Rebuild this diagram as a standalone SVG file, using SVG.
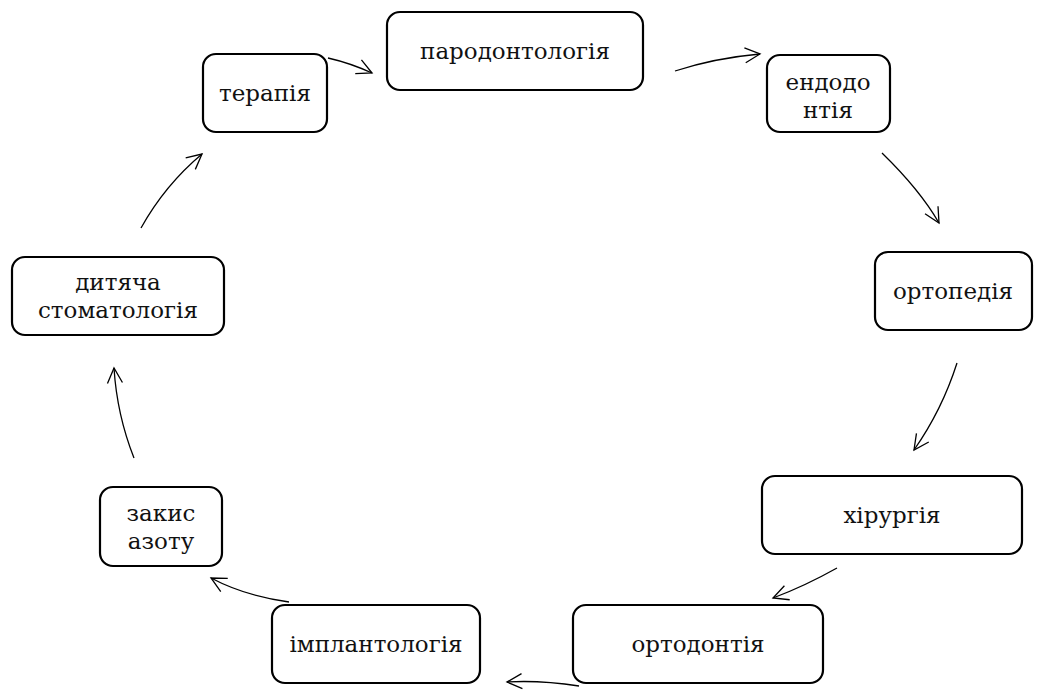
<svg xmlns="http://www.w3.org/2000/svg" width="1045" height="690" viewBox="0 0 1045 690">
<defs>
<style>
.box{fill:#fff;stroke:#000;stroke-width:2.2}
.t{font-family:'DejaVu Serif','Liberation Serif',serif;font-size:23px;fill:#111;text-anchor:middle}
.c{fill:none;stroke:#000;stroke-width:1.3;marker-end:url(#ah)}
</style>
<marker id="ah" viewBox="0 0 18 18" refX="16" refY="9" markerWidth="18" markerHeight="18" markerUnits="userSpaceOnUse" orient="auto">
<path d="M1,1.5 L16,9 L1,16.5" fill="none" stroke="#000" stroke-width="1.3"/>
</marker>
</defs>
<rect width="1045" height="690" fill="#fff"/>
<g id="connectors">
<path class="c" d="M328,58 Q350,63 372,73"/>
<path class="c" d="M675,71 Q715,58 760,54"/>
<path class="c" d="M882,153 Q920,190 939,223"/>
<path class="c" d="M957,363 Q942,410 914,450"/>
<path class="c" d="M837,568 Q805,586 773,598"/>
<path class="c" d="M579,686 Q540,680 507,682"/>
<path class="c" d="M289,602 Q245,596 211,578"/>
<path class="c" d="M134,458 Q117,415 114,368"/>
<path class="c" d="M141,228 Q165,185 202,154"/>
</g>
<g id="n-terapiya"><rect class="box" x="203" y="54" width="124" height="78" rx="13"/><text class="t" x="265" y="101">терапія</text></g>
<g id="n-parodontologiya"><rect class="box" x="387" y="12" width="256" height="78" rx="13"/><text class="t" x="515" y="59">пародонтологія</text></g>
<g id="n-endodontiya"><rect class="box" x="767" y="55" width="123" height="77" rx="13"/><text class="t" x="828" y="90">ендодо</text><text class="t" x="828" y="118">нтія</text></g>
<g id="n-ortopediya"><rect class="box" x="875" y="252" width="157" height="78" rx="13"/><text class="t" x="953" y="299">ортопедія</text></g>
<g id="n-khirurhiya"><rect class="box" x="762" y="476" width="260" height="78" rx="13"/><text class="t" x="892" y="523">хірургія</text></g>
<g id="n-ortodontiya"><rect class="box" x="573" y="605" width="250" height="78" rx="13"/><text class="t" x="698" y="652">ортодонтія</text></g>
<g id="n-implantolohiya"><rect class="box" x="272" y="605" width="208" height="78" rx="13"/><text class="t" x="376" y="652">імплантологія</text></g>
<g id="n-zakys"><rect class="box" x="100" y="487" width="122" height="79" rx="13"/><text class="t" x="161" y="521">закис</text><text class="t" x="161" y="549">азоту</text></g>
<g id="n-dytyacha"><rect class="box" x="12" y="257" width="212" height="78" rx="13"/><text class="t" x="118" y="290">дитяча</text><text class="t" x="118" y="318">стоматологія</text></g>
</svg>
